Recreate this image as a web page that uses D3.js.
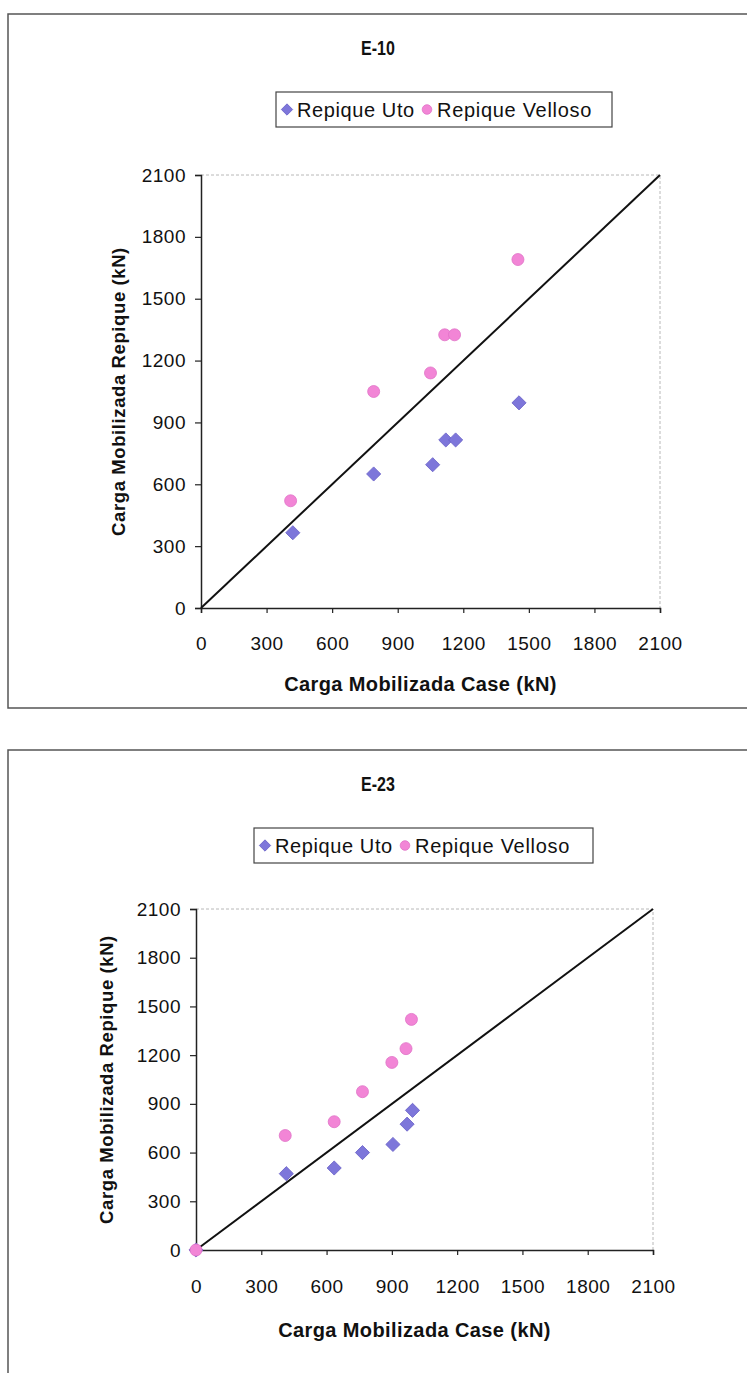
<!DOCTYPE html>
<html><head><meta charset="utf-8">
<script src="https://cdn.jsdelivr.net/npm/d3@7"></script>
<style>body{margin:0;background:#fff} svg{display:block}</style>
</head><body>
<svg id="c" width="747" height="1373"></svg>
<script>
// ---- data ----
const axisTicks = [0, 300, 600, 900, 1200, 1500, 1800, 2100];
const seriesNames = ["Repique Uto", "Repique Velloso"];
const chartTitles = ["E-10", "E-23"];
const e10Uto = [[420,365],[790,650],[1060,695],[1120,815],[1165,815],[1455,995]];
const e10Velloso = [[410,520],[790,1050],[1050,1140],[1115,1325],[1160,1325],[1450,1690]];
const e23Uto = [[0,0],[415,470],[635,505],[765,600],[905,650],[970,775],[995,860]];
const e23Velloso = [[0,0],[410,705],[635,790],[765,975],[900,1155],[965,1240],[990,1420]];
const identityLine = [[0,0],[2100,2100]];
const xLabel = "Carga Mobilizada Case (kN)";
const yLabel = "Carga Mobilizada Repique (kN)";

// ---- layout ----
const svg = d3.select("#c");
const FONT = "'Liberation Sans', Arial, sans-serif";
const UTO = "#7d76da", UTO_S = "#6a62c8";
const VEL = "#f285d6", VEL_S = "#e072c6";

const charts = [
  { title: chartTitles[0], uto: e10Uto, vel: e10Velloso,
    frameTop: 14, frameBottom: 708, titleY: 48,
    legend: {x: 276, y: 92, w: 336, h: 35},
    plot: {x0: 201, x1: 660, y0: 175, y1: 608},
    yTitleX: 118, xPad: 24, xTitleY: 684 },
  { title: chartTitles[1], uto: e23Uto, vel: e23Velloso,
    frameTop: 750, frameBottom: null, titleY: 784,
    legend: {x: 254, y: 828, w: 339, h: 35},
    plot: {x0: 196, x1: 653, y0: 909, y1: 1250},
    yTitleX: 106, xPad: 25, xTitleY: 1330 }
];

function diamond(sel, cx, cy, s) {
  sel.append("path")
    .attr("d", d3.symbol(d3.symbolSquare, s * s)())
    .attr("transform", `translate(${cx},${cy}) rotate(45)`)
    .attr("fill", UTO).attr("stroke", UTO_S).attr("stroke-width", 0.8);
}

charts.forEach(c => {
  const g = svg.append("g");
  // frame
  const fb = c.frameBottom;
  let d = `M748,${c.frameTop} L8,${c.frameTop} L8,${fb === null ? 1373 : fb}`;
  if (fb !== null) d += ` L748,${fb}`;
  g.append("path").attr("d", d).attr("fill", "none").attr("stroke", "#555").attr("stroke-width", 1.5);

  // title
  g.append("text").text(c.title)
    .attr("transform", `translate(378,${c.titleY + 7}) scale(0.8,1)`)
    .attr("text-anchor", "middle").attr("font-family", FONT)
    .attr("font-weight", "bold").attr("font-size", 20).attr("fill", "#111");

  // legend
  const L = c.legend;
  g.append("rect").attr("x", L.x).attr("y", L.y).attr("width", L.w).attr("height", L.h)
    .attr("fill", "#fff").attr("stroke", "#444").attr("stroke-width", 1.2);
  const ly = L.y + L.h / 2;
  diamond(g, L.x + 11, ly, 8);
  g.append("text").text(seriesNames[0])
    .attr("x", L.x + 21).attr("y", ly + 7).attr("font-family", FONT)
    .attr("font-size", 20).attr("letter-spacing", 0.6).attr("fill", "#111");
  g.append("circle").attr("cx", L.x + 151).attr("cy", ly).attr("r", 4.8)
    .attr("fill", VEL).attr("stroke", VEL_S).attr("stroke-width", 0.8);
  g.append("text").text(seriesNames[1])
    .attr("x", L.x + 161).attr("y", ly + 7).attr("font-family", FONT)
    .attr("font-size", 20).attr("letter-spacing", 0.7).attr("fill", "#111");

  // scales
  const P = c.plot;
  const x = d3.scaleLinear().domain([0, 2100]).range([P.x0, P.x1]);
  const y = d3.scaleLinear().domain([0, 2100]).range([P.y1, P.y0]);

  // plot-area border (top & right) light dashed
  g.append("path").attr("d", `M${P.x0},${P.y0} L${P.x1},${P.y0} L${P.x1},${P.y1}`)
    .attr("fill", "none").attr("stroke", "#b8b8b8").attr("stroke-width", 1)
    .attr("stroke-dasharray", "3,2");

  // axes
  const ya = g.append("g").attr("transform", `translate(${P.x0},0)`)
    .call(d3.axisLeft(y).tickValues(axisTicks).tickSize(6).tickPadding(9).tickFormat(d3.format("d")));
  const xa = g.append("g").attr("transform", `translate(0,${P.y1})`)
    .call(d3.axisBottom(x).tickValues(axisTicks).tickSize(5).tickPadding(c.xPad).tickFormat(d3.format("d")));
  [ya, xa].forEach(a => {
    a.select(".domain").attr("stroke", "#222").attr("stroke-width", 1.5);
    a.selectAll(".tick line").attr("stroke", "#222").attr("stroke-width", 1.2);
    a.selectAll(".tick text").attr("font-family", FONT).attr("font-size", 19)
      .attr("letter-spacing", 0.5).attr("fill", "#111");
  });

  // identity line
  g.append("path").datum(identityLine)
    .attr("d", d3.line().x(p => x(p[0])).y(p => y(p[1])))
    .attr("stroke", "#111").attr("stroke-width", 2).attr("fill", "none");

  // points
  c.uto.forEach(p => diamond(g, x(p[0]), y(p[1]), 10));
  g.selectAll(null).data(c.vel).enter().append("circle")
    .attr("cx", p => x(p[0])).attr("cy", p => y(p[1])).attr("r", 6)
    .attr("fill", VEL).attr("stroke", VEL_S).attr("stroke-width", 0.8);

  // axis titles
  g.append("text").text(xLabel)
    .attr("x", (P.x0 + P.x1) / 2 - 10).attr("y", c.xTitleY + 7)
    .attr("text-anchor", "middle").attr("font-family", FONT)
    .attr("font-weight", "bold").attr("font-size", 20).attr("letter-spacing", 0.4).attr("fill", "#111");
  g.append("text").text(yLabel)
    .attr("transform", `translate(${c.yTitleX + 7},${(P.y0 + P.y1) / 2}) rotate(-90)`)
    .attr("text-anchor", "middle").attr("font-family", FONT)
    .attr("font-weight", "bold").attr("font-size", 18.5).attr("letter-spacing", 0.6).attr("fill", "#111");
});
</script>
</body></html>
